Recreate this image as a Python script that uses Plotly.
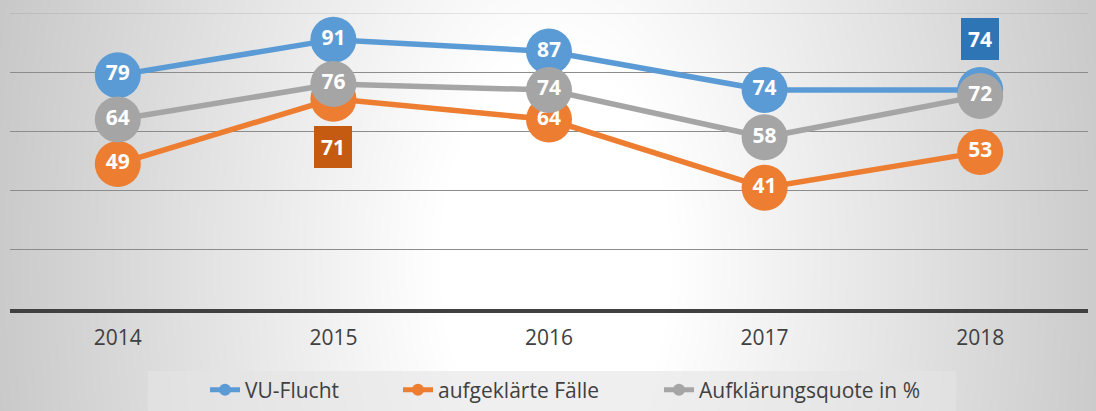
import base64
import struct
import zlib

import numpy as np
import plotly.graph_objects as go

# ---------------- data ----------------
years = ["2014", "2015", "2016", "2017", "2018"]
vu_flucht = [79, 91, 87, 74, 74]
aufgeklaerte_faelle = [49, 71, 64, 41, 53]
aufklaerungsquote = [64, 76, 74, 58, 72]

series_names = ["VU-Flucht", "aufgeklärte Fälle", "Aufklärungsquote in %"]
series_values = [vu_flucht, aufgeklaerte_faelle, aufklaerungsquote]
series_colors = ["#5B9BD5", "#ED7D31", "#A5A5A5"]
# labels drawn in a separate box instead of on the marker:
# (series index, point index, box colour, pixel offset downwards)
boxed_labels = [(1, 1, "#C55A11", 48), (0, 4, "#2E75B6", -51)]

# ---------------- layout geometry ----------------
W, H = 1096, 411
ML, MR, MT, MB = 10, 8, 13, 102
PW, PH = W - ML - MR, H - MT - MB


def px_x(px):
    return (px - ML) / PW


def px_y(py):
    return (H - MB - py) / PH


# ---------------- radial gradient background (PNG built by hand) ----------------
def gradient_png():
    yy, xx = np.mgrid[0:H, 0:W]
    cx, cy = 555.0, 260.0
    d = np.hypot((xx - cx) / 560.0, (yy - cy) / 1000.0)
    r0, r1, lo = 0.2, 1.05, 198.0
    t = np.clip((d - r0) / (r1 - r0), 0, 1)
    g = (255 - (255 - lo) * t).round().astype(np.uint8)
    raw = b"".join(b"\x00" + g[i].tobytes() for i in range(H))

    def chunk(tag, data):
        return (struct.pack(">I", len(data)) + tag + data
                + struct.pack(">I", zlib.crc32(tag + data) & 0xFFFFFFFF))

    png = (b"\x89PNG\r\n\x1a\n"
           + chunk(b"IHDR", struct.pack(">IIBBBBB", W, H, 8, 0, 0, 0, 0))
           + chunk(b"IDAT", zlib.compress(raw, 9))
           + chunk(b"IEND", b""))
    return "data:image/png;base64," + base64.b64encode(png).decode()


fig = go.Figure()

legend_ids = ["legend", "legend2", "legend3"]
hidden = {(s, p) for s, p, _, _ in boxed_labels}
for si, (name, vals, col) in enumerate(zip(series_names, series_values, series_colors)):
    texts = ["" if (si, pi) in hidden else str(v) for pi, v in enumerate(vals)]
    fig.add_trace(go.Scatter(
        x=years, y=vals, name=name, mode="lines+markers+text",
        line=dict(color=col, width=5.5),
        marker=dict(color=col, size=46),
        text=texts, textposition="middle center",
        textfont=dict(family="Open Sans", size=21, color="white", weight="bold"),
        cliponaxis=False, hoverinfo="skip",
        legend=legend_ids[si],
    ))

for si, pi, bg, shift in boxed_labels:
    fig.add_annotation(
        x=pi, y=series_values[si][pi], xref="x", yref="y",
        text="<b>%d</b>" % series_values[si][pi],
        showarrow=True, ax=0, ay=shift, axref="pixel", ayref="pixel",
        arrowcolor="rgba(0,0,0,0)", arrowwidth=0.1, standoff=0,
        bgcolor=bg, borderpad=7, borderwidth=0,
        font=dict(family="Open Sans", size=21, color="white"),
    )

legend_font = dict(family="Open Sans", size=21, color="#404040")
legend_common = dict(orientation="h", bgcolor="rgba(0,0,0,0)", font=legend_font,
                     itemsizing="constant", yanchor="middle",
                     yref="container", y=(H - 390) / H,
                     xref="container", xanchor="left")
legend_x = [205, 398, 659]

shapes = [
    # legend box
    dict(type="rect", xref="paper", yref="paper", layer="below",
         x0=px_x(148), x1=px_x(956), y0=px_y(420), y1=px_y(371),
         line=dict(width=0), fillcolor="rgba(228,228,228,0.6)"),
    # faint top gridline
    dict(type="line", xref="paper", yref="y", layer="below",
         x0=0, x1=1, y0=100, y1=100,
         line=dict(color="rgba(120,120,120,0.22)", width=1.3)),
]

fig.update_layout(
    width=W, height=H,
    margin=dict(l=ML, r=MR, t=MT, b=MB, pad=0, autoexpand=False),
    paper_bgcolor="white", plot_bgcolor="rgba(0,0,0,0)",
    images=[dict(source=gradient_png(), xref="paper", yref="paper",
                 x=px_x(0), y=px_y(0), sizex=W / PW, sizey=H / PH,
                 xanchor="left", yanchor="top", sizing="stretch",
                 layer="below")],
    shapes=shapes,
    legend=dict(legend_common, x=legend_x[0] / W),
    legend2=dict(legend_common, x=legend_x[1] / W),
    legend3=dict(legend_common, x=legend_x[2] / W),
    xaxis=dict(type="category", range=[-0.5, 4.5], showgrid=False, zeroline=False,
               showline=True, linecolor="#404040", linewidth=3.5, ticks="",
               tickfont=dict(family="Open Sans", size=21, color="#404040"),
               ticklabelstandoff=7, automargin=False, fixedrange=True),
    yaxis=dict(range=[0, 100], tickvals=[20, 40, 60, 80], showticklabels=False,
               showgrid=True, gridcolor="#8C8C8C", gridwidth=1.3, zeroline=False,
               showline=False, automargin=False, fixedrange=True),
    showlegend=True,
)

fig.write_html(
    "out.html",
    config={"displayModeBar": False, "staticPlot": True},
    post_script="document.body.style.margin='0';document.body.style.overflow='hidden';",
)
